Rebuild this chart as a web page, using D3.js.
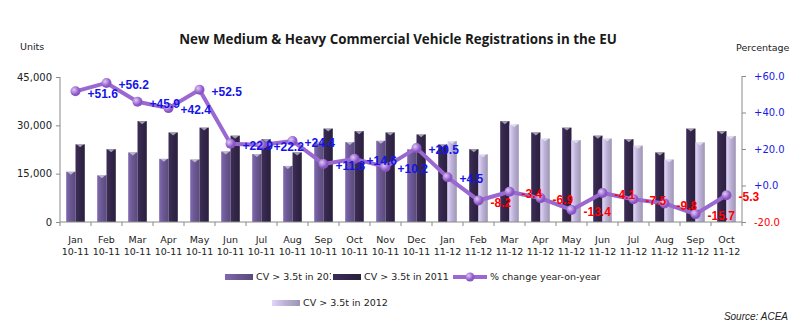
<!DOCTYPE html>
<html>
<head>
	<title>CV Registrations EU</title>
	<script type="text/javascript" src="https://cdnjs.cloudflare.com/ajax/libs/d3/7.8.5/d3.min.js"></script>
	<style>
		body { margin: 0; background: #fff; }
		text { font-family: "DejaVu Sans", Verdana, sans-serif; }
	</style>
</head>
<body>
	<svg id="chart" width="800" height="330"></svg>
	<script type="text/javascript">
		// data
		var months = ["Jan", "Feb", "Mar", "Apr", "May", "Jun", "Jul", "Aug", "Sep", "Oct", "Nov", "Dec",
			"Jan", "Feb", "Mar", "Apr", "May", "Jun", "Jul", "Aug", "Sep", "Oct"];
		var periods = ["10-11", "10-11", "10-11", "10-11", "10-11", "10-11", "10-11", "10-11", "10-11", "10-11", "10-11", "10-11",
			"11-12", "11-12", "11-12", "11-12", "11-12", "11-12", "11-12", "11-12", "11-12", "11-12"];
		var reg2010 = [15600, 14500, 21600, 19600, 19400, 21900, 21100, 17400, 24900, 24800, 25200, 22600];
		var reg2011 = [24100, 22600, 31300, 27800, 29300, 26800, 25700, 21600, 29000, 28200, 27800, 27200];
		var reg2012 = [25100, 21000, 30300, 25900, 25400, 25900, 23700, 19400, 24700, 26700];
		var pctChange = [51.6, 56.2, 45.9, 42.4, 52.5, 22.9, 22.2, 24.4, 11.8, 14.6, 10.2, 20.5,
			4.5, -8.2, -3.4, -6.9, -13.4, -4.1, -7.5, -9.8, -15.7, -5.3];
		var leftTicks = [0, 15000, 30000, 45000];
		var rightTicks = [-20, 0, 20, 40, 60];

		var colors = {y2010: "#6b5893", y2011: "#33264a", y2012: "#bdb2d6", line: "#9a68d0"};

		var svg = d3.select("#chart");
		var defs = svg.append("defs");

		function barGradient(id, c) {
			var g = defs.append("linearGradient").attr("id", id)
				.attr("x1", 0).attr("x2", 1).attr("y1", 0).attr("y2", 0);
			g.append("stop").attr("offset", "0%").attr("stop-color", d3.color(c).brighter(0.5));
			g.append("stop").attr("offset", "45%").attr("stop-color", c);
			g.append("stop").attr("offset", "100%").attr("stop-color", d3.color(c).darker(0.5));
		}
		barGradient("g2010", colors.y2010);
		barGradient("g2011", colors.y2011);
		barGradient("g2012", colors.y2012);

		var mg = defs.append("radialGradient").attr("id", "gMarker").attr("cx", "35%").attr("cy", "35%");
		mg.append("stop").attr("offset", "0%").attr("stop-color", "#e0c8f8");
		mg.append("stop").attr("offset", "100%").attr("stop-color", "#8a55c4");

		// rows: prior year bar on the left, current year bar on the right
		var rows = months.map(function (m, i) {
			if (i < 12) {
				return {i: i, prior: reg2010[i], priorKey: "g2010", cur: reg2011[i], curKey: "g2011", pct: pctChange[i]};
			}
			return {i: i, prior: reg2011[i - 12], priorKey: "g2011", cur: reg2012[i - 12], curKey: "g2012", pct: pctChange[i]};
		});

		var x = d3.scaleBand().domain(d3.range(months.length)).range([60, 742]).padding(0);
		var inner = d3.scaleBand().domain(["prior", "cur"]).range([x.bandwidth() * 0.2, x.bandwidth() * 0.8]);
		var yL = d3.scaleLinear().domain([0, 45000]).range([222, 77]);
		var yR = d3.scaleLinear().domain([-20, 60]).range([222, 76]);

		// title and axis names
		var title = svg.append("text")
			.attr("x", 398).attr("y", 44)
			.attr("text-anchor", "middle")
			.style("font-family", "'Open Sans', 'Liberation Sans', sans-serif")
			.style("font-weight", "bold")
			.style("font-size", "15px")
			.attr("fill", "#1a1a1a")
			.text("New Medium & Heavy Commercial Vehicle Registrations in the EU");
		var tw = title.node().getComputedTextLength();
		title.style("font-size", (15 * 438 / tw) + "px");

		svg.append("text").attr("x", 20).attr("y", 50).style("font-size", "9.5px").attr("fill", "#222").text("Units");
		svg.append("text").attr("x", 736).attr("y", 51).style("font-size", "9.5px").attr("fill", "#222").text("Percentage");

		// bars
		var groups = svg.append("g").selectAll("g").data(rows).enter().append("g")
			.attr("transform", function (d) { return "translate(" + x(d.i) + ",0)"; });

		["prior", "cur"].forEach(function (k) {
			groups.append("rect")
				.attr("x", inner(k))
				.attr("y", function (d) { return yL(d[k]); })
				.attr("width", inner.bandwidth())
				.attr("height", function (d) { return yL(0) - yL(d[k]); })
				.attr("fill", function (d) { return "url(#" + d[k + "Key"] + ")"; });
			// little light cap on top of each bar
			groups.append("path")
				.attr("d", function (d) {
					var x0 = inner(k), w = inner.bandwidth(), t = yL(d[k]);
					return "M" + (x0 + 1) + "," + t + "L" + (x0 + w - 1) + "," + t + "L" + (x0 + w / 2) + "," + (t + 3) + "Z";
				})
				.attr("fill", "#ffffff").attr("opacity", 0.55);
		});

		// axes
		var axisColor = "#8a8a8a";
		var left = svg.append("g").attr("transform", "translate(60,0)")
			.call(d3.axisLeft(yL).tickValues(leftTicks).tickSize(4).tickPadding(4).tickFormat(d3.format(",")));
		left.select(".domain").attr("stroke", axisColor).attr("d", "M0," + yL(45000) + "V" + yL(0));
		left.selectAll(".tick line").attr("stroke", axisColor);
		left.selectAll(".tick text").style("font-size", "10px").style("font-family", "'DejaVu Sans', sans-serif").attr("fill", "#222");

		var right = svg.append("g").attr("transform", "translate(742,0)")
			.call(d3.axisRight(yR).tickValues(rightTicks).tickSize(4).tickPadding(8).tickFormat(function (d) {
				return (d >= 0 ? "+" : "") + d.toFixed(1);
			}));
		right.select(".domain").attr("stroke", axisColor).attr("d", "M0," + yR(60) + "V" + yR(-20));
		right.selectAll(".tick line").attr("stroke", axisColor);
		right.selectAll(".tick text").style("font-size", "10px").style("font-family", "'DejaVu Sans', sans-serif")
			.attr("fill", function (d) { return d < 0 ? "#ff0000" : "#1a1ae6"; });

		var bottom = svg.append("g");
		bottom.append("line").attr("x1", 60).attr("x2", 742).attr("y1", yL(0)).attr("y2", yL(0)).attr("stroke", axisColor);
		bottom.selectAll("line.tk").data(d3.range(months.length + 1)).enter().append("line")
			.attr("class", "tk")
			.attr("x1", function (d) { return 60 + d * x.bandwidth(); })
			.attr("x2", function (d) { return 60 + d * x.bandwidth(); })
			.attr("y1", yL(0)).attr("y2", yL(0) + 4)
			.attr("stroke", axisColor);
		bottom.selectAll("text.m").data(rows).enter().append("text")
			.attr("class", "m")
			.attr("x", function (d) { return x(d.i) + x.bandwidth() / 2; })
			.attr("y", 243)
			.attr("text-anchor", "middle").style("font-size", "9.5px").attr("fill", "#222")
			.text(function (d) { return months[d.i]; });
		bottom.selectAll("text.p").data(rows).enter().append("text")
			.attr("class", "p")
			.attr("x", function (d) { return x(d.i) + x.bandwidth() / 2; })
			.attr("y", 255)
			.attr("text-anchor", "middle").style("font-size", "9.5px").attr("fill", "#222")
			.text(function (d) { return periods[d.i]; });

		// % change line
		var cx = function (d) { return x(d.i) + x.bandwidth() / 2; };
		var line = d3.line().x(cx).y(function (d) { return yR(d.pct); });
		svg.append("path").datum(rows)
			.attr("d", line)
			.attr("fill", "none")
			.attr("stroke", colors.line)
			.attr("stroke-width", 4)
			.attr("stroke-linejoin", "round");
		svg.append("g").selectAll("circle").data(rows).enter().append("circle")
			.attr("cx", cx)
			.attr("cy", function (d) { return yR(d.pct); })
			.attr("r", 5)
			.attr("fill", "url(#gMarker)");
		svg.append("g").selectAll("text").data(rows).enter().append("text")
			.attr("x", function (d) { return cx(d) + 12; })
			.attr("y", function (d) { return yR(d.pct) + 2; })
			.attr("dy", "0.35em")
			.style("font-family", "'Liberation Sans', Arial, sans-serif")
			.style("font-weight", "bold")
			.style("font-size", "12px")
			.attr("fill", function (d) { return d.pct < 0 ? "#ff0000" : "#1515e8"; })
			.text(function (d) { return (d.pct >= 0 ? "+" : "") + d.pct.toFixed(1); });

		// legend
		var lg = svg.append("g").style("font-family", "'Liberation Sans', Arial, sans-serif").style("font-size", "9.5px");
		function legendBar(xp, yp, key, label, cover) {
			if (cover) lg.append("rect").attr("x", xp - 2).attr("y", yp - 8).attr("width", 120).attr("height", 16).attr("fill", "#fff");
			lg.append("rect").attr("x", xp).attr("y", yp - 3).attr("width", 28).attr("height", 6).attr("fill", "url(#" + key + ")");
			lg.append("text").attr("x", xp + 31).attr("y", yp).attr("dy", "0.35em").attr("fill", "#222").text(label);
		}
		legendBar(225, 277, "g2010", "CV > 3.5t in 2010", false);
		legendBar(333, 277, "g2011", "CV > 3.5t in 2011", true);
		legendBar(272, 303, "g2012", "CV > 3.5t in 2012", false);
		lg.append("line").attr("x1", 453).attr("x2", 487).attr("y1", 277).attr("y2", 277)
			.attr("stroke", colors.line).attr("stroke-width", 4);
		lg.append("circle").attr("cx", 470).attr("cy", 277).attr("r", 4.5).attr("fill", "url(#gMarker)");
		lg.append("text").attr("x", 490).attr("y", 277).attr("dy", "0.35em").attr("fill", "#222").text("% change year-on-year");

		svg.append("text").attr("x", 788).attr("y", 320).attr("text-anchor", "end")
			.style("font-family", "'Liberation Sans', Arial, sans-serif")
			.style("font-style", "italic").style("font-size", "10px").attr("fill", "#222")
			.text("Source: ACEA");
	</script>
</body>
</html>
